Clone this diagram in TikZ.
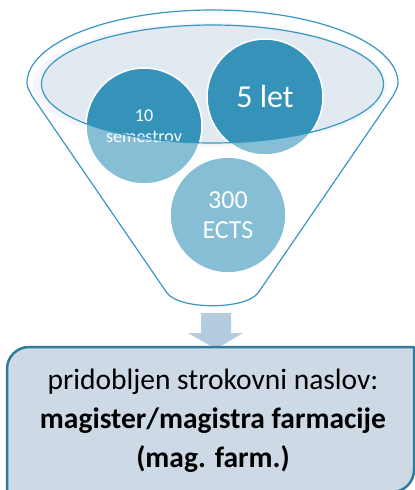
\documentclass[tikz,border=0pt]{standalone}
\usepackage{fontspec}
\setmainfont{Carlito}
\definecolor{lijakmoder}{HTML}{3B97C2}
\definecolor{odprtina}{HTML}{E2EAF1}
\definecolor{sij}{HTML}{EEF3F7}
\definecolor{krogtemen}{HTML}{3593BA}
\definecolor{okvirpolnilo}{HTML}{CDDAE5}
\definecolor{okvirrob}{HTML}{2E7B9B}
\definecolor{puscica}{HTML}{B3CCDF}
\tikzset{
  krog/.style={circle, fill=krogtemen, draw=white, line width=1.5pt, minimum size=116pt,
    inner sep=0pt, text=white, align=center},
}
\begin{document}
\begin{tikzpicture}[x=1pt, y=-1pt, line join=round, line cap=round]
	\useasboundingbox (0,0) rectangle (415,490);
	%%%%%%%%%%%%%%%%%%%%%%%%%%%%%%%%%
	\coordinate (L) at (27,83);
	\coordinate (D) at (398,83);
	\coordinate (O) at (212.5,84);
	%%%%%%%%%%%%%%%%%%%%%%%%%%%%%%%%%
	% lijak
	\def\lijak{(L) arc[start angle=180, end angle=360, x radius=185.5, y radius=73]
		.. controls (398,88) and (395,91) .. (393,96) -- (258,293)
		.. controls (245,310) and (180,310) .. (167,293) -- (32,96)
		.. controls (30,91) and (27,88) .. (L) -- cycle}
	\fill[white] \lijak;
	\fill[sij] (210,85) ellipse[x radius=177, y radius=62];
	\fill[odprtina] (O) ellipse[x radius=171, y radius=59];
	%%%%%%%%%%%%%%%%%%%%%%%%%%%%%%%%%
	\node[krog, font=\fontsize{18}{21}\selectfont] (semestri) at (144,126) {10\\semestrov};
	\node[krog, font=\fontsize{32}{36}\selectfont] (leta) at (265,97) {5 let};
	\node[krog, font=\fontsize{26}{30}\selectfont] (ects) at (228,215) {300\\ECTS};
	%%%%%%%%%%%%%%%%%%%%%%%%%%%%%%%%%
	\fill[white, opacity=0.4, even odd rule] \lijak (O) ellipse[x radius=171, y radius=59];
	\draw[lijakmoder, line width=1.2pt] (O) ellipse[x radius=171, y radius=59];
	\draw[lijakmoder, line width=1.2pt] \lijak;
	%%%%%%%%%%%%%%%%%%%%%%%%%%%%%%%%%
	% puscica
	\coordinate (P) at (216,313);
	\fill[puscica] (P) ++(-15,0) -- ++(30,0) -- ++(0,20) -- ++(12,0) -- (216,349)
		-- (188,333) -- (201,333) -- cycle;
	%%%%%%%%%%%%%%%%%%%%%%%%%%%%%%%%%
	% naslov
	\filldraw[fill=okvirpolnilo, draw=okvirrob, line width=2.5pt]
		(7,493) -- (7,369) arc[start angle=180, end angle=270, radius=22] -- (414,347)
		-- (414,470) arc[start angle=0, end angle=90, radius=22] -- cycle;
	\node[align=center, font=\fontsize{29.5}{39}\selectfont] (naslov) at (213,421)
		{pridobljen strokovni naslov:\\ \textbf{magister/magistra farmacije}\\ \textbf{(mag. farm.)}};
	%%%%%%%%%%%%%%%%%%%%%%%%%%%%%%%%%
\end{tikzpicture}
\end{document}
